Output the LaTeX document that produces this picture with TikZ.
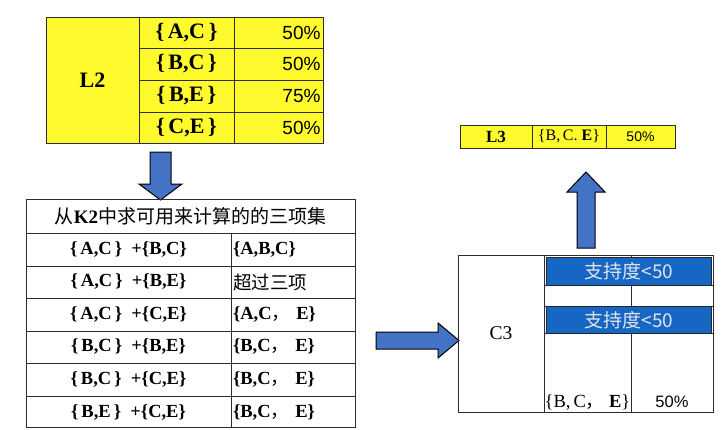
\documentclass[tikz,border=0pt]{standalone}
\usepackage{fontspec}
\setmainfont{Liberation Serif}
\newfontfamily\cjk{Noto Sans CJK SC}
\newfontfamily\arial{Liberation Sans}
\usetikzlibrary{positioning}
\definecolor{ylw}{RGB}{255,250,45}
\definecolor{lnc}{RGB}{45,45,45}
\definecolor{arrblue}{RGB}{68,114,196}
\definecolor{barblue}{RGB}{22,102,196}
\definecolor{bartext}{RGB}{225,228,235}
\begin{document}
\begin{tikzpicture}[x=1pt,y=-1pt,
  cell/.style={draw=lnc,line width=0.9pt,anchor=north west,inner sep=0pt,outer sep=0pt},
  ycell/.style={cell,fill=ylw},
  barbox/.style={draw=black!85,line width=1pt,fill=barblue,anchor=north west,inner sep=0pt,
     text=bartext,font=\cjk\fontsize{19}{21}\selectfont},
  blockarrow/.style={draw=black,line width=1pt,fill=arrblue,line join=miter},
  sb/.style={font=\bfseries\fontsize{22}{24}\selectfont},
  pc/.style={font=\arial\fontsize{19}{21}\selectfont},
  tb/.style={font=\bfseries\fontsize{18.5}{20}\selectfont}
]
\useasboundingbox (0,0) rectangle (726,429);
% ---------- L2 table ----------
\node[ycell,minimum width=93pt,minimum height=126pt,sb] (l2) at (46,17) {L2};
\node[ycell,minimum width=95pt,minimum height=31pt,sb] (l2a1) at (139,17) {\{\,A,C\,\}};
\node[ycell,minimum width=89pt,minimum height=31pt,pc,text width=84pt,align=right] (l2a2) at (234,17) {50\%};
\node[ycell,minimum width=95pt,minimum height=32pt,sb] (l2b1) at (139,48) {\{\,B,C\,\}};
\node[ycell,minimum width=89pt,minimum height=32pt,pc,text width=84pt,align=right] (l2b2) at (234,48) {50\%};
\node[ycell,minimum width=95pt,minimum height=32pt,sb] (l2c1) at (139,80) {\{\,B,E\,\}};
\node[ycell,minimum width=89pt,minimum height=32pt,pc,text width=84pt,align=right] (l2c2) at (234,80) {75\%};
\node[ycell,minimum width=95pt,minimum height=31pt,sb] (l2d1) at (139,112) {\{\,C,E\,\}};
\node[ycell,minimum width=89pt,minimum height=31pt,pc,text width=84pt,align=right] (l2d2) at (234,112) {50\%};
% ---------- down arrow ----------
\draw[blockarrow] (150,152) -- (171,152) -- (171,184) -- (182,184) -- (160.5,200) -- (139,184) -- (150,184) -- cycle;
% ---------- candidate table ----------
\node[cell,minimum width=329pt,minimum height=34pt,font=\cjk\fontsize{19}{21}\selectfont] (hd) at (26,199) {从{\rmfamily\bfseries K2}中求可用来计算的的三项集};
\foreach \n/\y/\h/\a/\b in {
  r1/233/33/{\{\,A,C\,\}\ \ +\{B,C\}}/{\{A,B,C\}},
  r2/266/32/{\{\,A,C\,\}\ \ +\{B,E\}}/{\mdseries\cjk 超过三项},
  r3/298/33/{\{\,A,C\,\}\ \ +\{C,E\}}/{\{A,C{\mdseries\cjk ，}\ E\}},
  r4/331/32/{\{\,B,C\,\}\ \ +\{B,E\}}/{\{B,C{\mdseries\cjk ，}\ E\}},
  r5/363/33/{\{\,B,C\,\}\ \ +\{C,E\}}/{\{B,C{\mdseries\cjk ，}\ E\}}}{
  \node[cell,minimum width=205pt,minimum height=\h pt,tb] (\n a) at (26,\y) {\a};
  \node[cell,minimum width=124pt,minimum height=\h pt,tb,text width=120pt,align=left] (\n b) at (231,\y) {\b};
}
\node[cell,minimum width=205pt,minimum height=31pt,tb,text depth=-6pt] (r6a) at (26,396) {\{\,B,E\,\}\ \ +\{C,E\}};
\node[cell,minimum width=124pt,minimum height=31pt,tb,text width=120pt,align=left,text depth=-6pt] (r6b) at (231,396) {\{B,C{\mdseries\cjk ，}\ E\}};
% ---------- right arrow ----------
\draw[blockarrow] (376,332) -- (438,332) -- (438,323) -- (459,340.5) -- (438,358) -- (438,349) -- (376,349) -- cycle;
% ---------- C3 table ----------
\node[cell,minimum width=86pt,minimum height=157pt,font=\fontsize{19.5}{21}\selectfont] (c3) at (458,255) {C3};
\node[cell,minimum width=87pt,minimum height=30pt] (c3a1) at (544,255) {};
\node[cell,minimum width=82pt,minimum height=30pt] (c3a2) at (631,255) {};
\node[cell,minimum width=87pt,minimum height=21pt] (c3b1) at (544,285) {};
\node[cell,minimum width=82pt,minimum height=21pt] (c3b2) at (631,285) {};
\node[cell,minimum width=87pt,minimum height=27pt] (c3c1) at (544,306) {};
\node[cell,minimum width=82pt,minimum height=27pt] (c3c2) at (631,306) {};
\node[cell,minimum width=87pt,minimum height=79pt] (c3d1) at (544,333) {};
\node[cell,minimum width=82pt,minimum height=79pt] (c3d2) at (631,333) {};
\node[anchor=base,font=\fontsize{18.5}{20}\selectfont,inner sep=0pt] (c3set) at (587.5,407) {\{B,\,C{\cjk ，}\ \textbf{E}\}};
\node[anchor=base,font=\arial\fontsize{16.5}{18}\selectfont,inner sep=0pt] (c3pct) at (672,407) {50\%};
\node[barbox,minimum width=165pt,minimum height=28pt] (bar1) at (546,257) {支持度<50};
\node[barbox,minimum width=165pt,minimum height=27pt] (bar2) at (546,306) {支持度<50};
% ---------- up arrow ----------
\draw[blockarrow] (577,248) -- (595,248) -- (595,192) -- (605,192) -- (586,172) -- (567,192) -- (577,192) -- cycle;
% ---------- L3 table ----------
\node[ycell,minimum width=72pt,minimum height=23pt,font=\bfseries\fontsize{17}{19}\selectfont] (l3a) at (460,125) {L3};
\node[ycell,minimum width=74pt,minimum height=23pt,font=\fontsize{16}{18}\selectfont] (l3b) at (532,125) {\{B,\,C.\ \textbf{E}\}};
\node[ycell,minimum width=69pt,minimum height=23pt,font=\arial\fontsize{14}{16}\selectfont] (l3c) at (606,125) {50\%};
\end{tikzpicture}
\end{document}
